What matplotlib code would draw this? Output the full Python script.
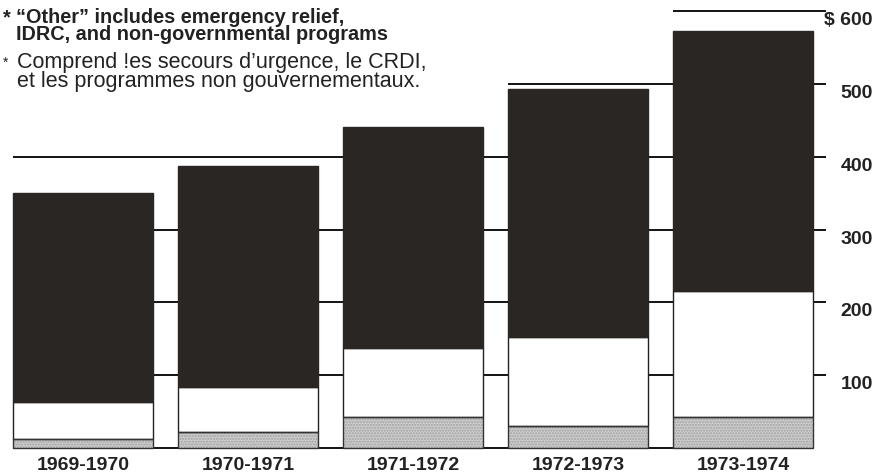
#!/usr/bin/env python3
"""Stacked bars of aid disbursements 1969-1974, with the bilingual footnote."""

import matplotlib.pyplot as plt

YEARS = ["1969-1970", "1970-1971", "1971-1972", "1972-1973", "1973-1974"]
# cumulative tops (millions of dollars)
OTHER = [12, 22, 42, 30, 42]
MIDDLE_TOP = [63, 84, 137, 152, 215]
TOTAL = [350, 387, 441, 493, 573]
GRID_LEVELS = [100, 200, 300, 400, 500, 600]
TICK_LABELS = ["100", "200", "300", "400", "500", "$ 600"]

NOTE_EN = ["\u201cOther\u201d includes emergency relief,",
           "IDRC, and non-governmental programs"]
NOTE_FR = ["Comprend !es secours d\u2019urgence, le CRDI,",
           "et les programmes non gouvernementaux."]

BLACK = "#2a2624"
GREY = "#cdcdcd"
INK = "#222222"
WIDTH = 0.85
# gridline start, as index of the bar whose left edge it begins at
GRID_START = [0, 0, 0, 0, 3, 4]

plt.rcParams["font.family"] = ["Liberation Sans", "DejaVu Sans"]

fig = plt.figure(figsize=(8.87, 4.73), dpi=100)
ax = fig.add_axes([0, 0, 1, 1])
px_unit = 0.728  # pixels per dollar unit
ax.set_xlim(-83 / 165, (887 - 83) / 165)
ax.set_ylim(-(473 - 448) / px_unit, 448 / px_unit)
ax.axis("off")

x = list(range(len(YEARS)))
middle = [m - o for m, o in zip(MIDDLE_TOP, OTHER)]
top = [t - m for t, m in zip(TOTAL, MIDDLE_TOP)]

right_end = x[-1] + WIDTH / 2 + 0.08
for level, start in zip(GRID_LEVELS, GRID_START):
    ax.hlines(level, x[start] - WIDTH / 2, right_end, color="black", lw=1.3, zorder=1)
ax.hlines(0, x[0] - WIDTH / 2, x[-1] + WIDTH / 2, color="black", lw=1.3, zorder=1)

# stippled "other" segment: light dots, then a dark outline on top
ax.bar(x, OTHER, WIDTH, color=GREY, edgecolor="#a0a0a0", lw=0, hatch="......", zorder=2)
ax.bar(x, OTHER, WIDTH, fill=False, edgecolor="#333333", lw=1.0, zorder=3)
ax.bar(x, middle, WIDTH, bottom=OTHER, color="white", edgecolor=INK, lw=1.0, zorder=2)
ax.bar(x, top, WIDTH, bottom=MIDDLE_TOP, color=BLACK, edgecolor=BLACK, lw=1.0, zorder=2)

ytr = ax.get_yaxis_transform()
for level, lab in zip(GRID_LEVELS, TICK_LABELS):
    ax.text(873 / 887, level - 1.5, lab, transform=ytr, ha="right", va="top",
            fontsize=14, fontweight="bold", color=INK)

for xi, year in zip(x, YEARS):
    ax.text(xi, -12.5, year, ha="center", va="top", fontsize=14,
            fontweight="bold", color=INK)

# footnotes: asterisk on its own, two-line block beside it
# (va="baseline" on a block pins the last line's baseline)
ftr = fig.transFigure
ax.text(3 / 887, 1 - 23 / 473, "*", transform=ftr, fontsize=14.3,
        fontweight="bold", color=INK, va="baseline")
ax.text(16 / 887, 1 - 40.5 / 473, "\n".join(NOTE_EN), transform=ftr,
        fontsize=14.3, fontweight="bold", color=INK, va="baseline",
        linespacing=0.9)
ax.text(3 / 887, 1 - 67 / 473, "*", transform=ftr, fontsize=10,
        color=INK, va="baseline")
ax.text(17 / 887, 1 - 87 / 473, "\n".join(NOTE_FR), transform=ftr,
        fontsize=15.5, color=INK, va="baseline", linespacing=0.86)

fig.savefig("out.png", dpi=100)
